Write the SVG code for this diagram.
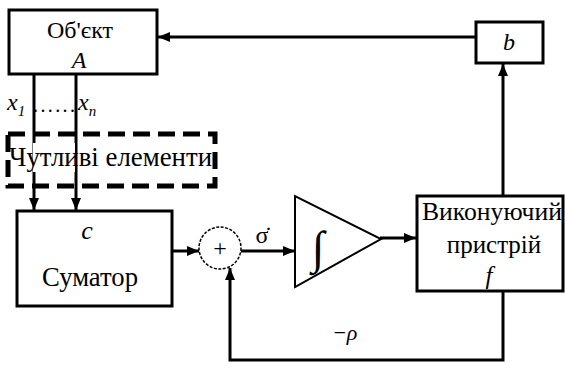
<svg xmlns="http://www.w3.org/2000/svg" width="565" height="370" viewBox="0 0 565 370">
<style>
.box{fill:#fff;stroke:#000;stroke-width:3}
.ln{fill:none;stroke:#000;stroke-width:3}
.i{font-style:italic}
</style>
<defs>
<marker id="ah" viewBox="0 0 12 10" refX="12" refY="5" markerWidth="12" markerHeight="10" markerUnits="userSpaceOnUse" orient="auto">
<path d="M0,0 L12,5 L0,10 Z" fill="#000"/>
</marker>
</defs>
<rect width="565" height="370" fill="#fff"/>

<g id="connectors">
<line class="ln" x1="476" y1="37" x2="158" y2="37" marker-end="url(#ah)"/>
<line class="ln" x1="503" y1="196" x2="503" y2="64" marker-end="url(#ah)"/>
<line class="ln" x1="34" y1="74" x2="34" y2="210" marker-end="url(#ah)"/>
<line class="ln" x1="76" y1="74" x2="76" y2="210" marker-end="url(#ah)"/>
<line class="ln" x1="172" y1="251" x2="199" y2="251" marker-end="url(#ah)"/>
<line class="ln" x1="241" y1="251" x2="295" y2="251" marker-end="url(#ah)"/>
<line class="ln" x1="380" y1="238" x2="416" y2="238" marker-end="url(#ah)"/>
<polyline class="ln" points="503,291 503,360 230,360 230,268" marker-end="url(#ah)"/>
</g>

<g font-family="Liberation Serif, Times New Roman, serif" fill="#000">
<g id="object">
<rect class="box" x="9" y="10" width="148" height="64"/>
<text x="80" y="38" font-size="24" text-anchor="middle">Об'єкт</text>
<text class="i" x="79" y="68" font-size="24" text-anchor="middle">A</text>
</g>

<g id="b-block">
<rect class="box" x="476" y="22" width="67" height="41"/>
<text class="i" x="509" y="50" font-size="24" text-anchor="middle">b</text>
</g>

<g id="x-labels">
<text class="i" x="7" y="110" font-size="24">x<tspan font-size="15" dy="6">1</tspan></text>
<text x="33" y="112" font-size="20" textLength="42" lengthAdjust="spacing">......</text>
<text class="i" x="78" y="110" font-size="24">x<tspan font-size="15" dy="6">n</tspan></text>
</g>

<g id="sensors">
<rect x="8" y="134" width="207" height="52" fill="none" stroke="#000" stroke-width="5" stroke-dasharray="17 8"/>
<rect x="33" y="143" width="42" height="29" fill="#fff"/>
<text x="9" y="166" font-size="27" textLength="203" lengthAdjust="spacingAndGlyphs">Чутливі елементи</text>
</g>

<g id="summator">
<rect class="box" x="17" y="211" width="155" height="95"/>
<text class="i" x="87" y="239" font-size="26" text-anchor="middle">c</text>
<text x="90" y="286" font-size="27" text-anchor="middle" textLength="96" lengthAdjust="spacingAndGlyphs">Суматор</text>
</g>

<g id="sum-point">
<circle cx="220" cy="248" r="21" fill="#fff" stroke="#000" stroke-width="1.5" stroke-dasharray="3 1.5"/>
<text x="220" y="256" font-size="24" text-anchor="middle">+</text>
<text x="262" y="243" font-size="24" text-anchor="middle">σ̇</text>
</g>

<g id="integrator">
<polygon points="295,196 295,287 381,239" fill="#fff" stroke="#000" stroke-width="2"/>
<text x="318" y="263" font-size="46" text-anchor="middle">∫</text>
</g>

<g id="executor">
<rect class="box" x="417" y="196" width="146" height="95"/>
<text x="492" y="220" font-size="25" text-anchor="middle" textLength="140" lengthAdjust="spacingAndGlyphs">Виконуючий</text>
<text x="494" y="253" font-size="25" text-anchor="middle">пристрій</text>
<text class="i" x="489" y="284" font-size="25" text-anchor="middle">f</text>
</g>

<g id="feedback-label">
<text class="i" x="332" y="340" font-size="22">−ρ</text>
</g>
</g>
</svg>
